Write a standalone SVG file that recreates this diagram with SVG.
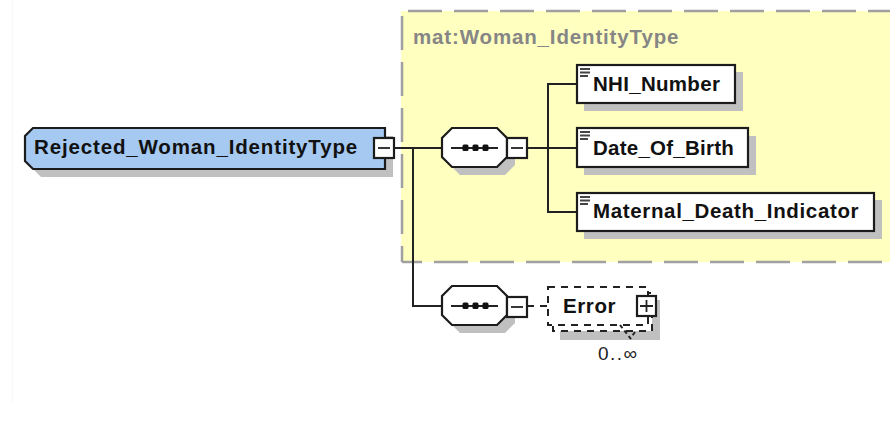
<svg xmlns="http://www.w3.org/2000/svg" width="890" height="441" viewBox="0 0 890 441">
<style>
text{font-family:"Liberation Sans",Arial,sans-serif;font-weight:bold;fill:#111;font-size:20.5px}
.sh{fill:#c0c0c0;stroke:none}
.bx{fill:#fff;stroke:#1c1c1c;stroke-width:2.200}
.ln{fill:none;stroke:#222;stroke-width:2}
.dsh{stroke:#222;stroke-width:2;stroke-dasharray:7 6}
.thin{fill:none;stroke:#222;stroke-width:1.800}
.edge{fill:none;stroke:#a0a0a0;stroke-width:2.500;stroke-dasharray:34 12}
</style>
<defs>
<path id="seq" d="M452 128H497L507 138V157L497 167H452L442 157V138Z"/>
<g id="dots"><line x1="451" x2="498" y1="148" y2="148" class="ln"/><rect x="462.500" y="144.500" width="6" height="6.500" rx="1.500" fill="#111"/><rect x="472.500" y="144.500" width="6" height="6.500" rx="1.500" fill="#111"/><rect x="482.500" y="144.500" width="6" height="6.500" rx="1.500" fill="#111"/></g>
<g id="lines"><rect x="0" y="0" width="10" height="2" fill="#444"/><rect x="0" y="3.500" width="10" height="2" fill="#444"/><rect x="0" y="7" width="8" height="2" fill="#444"/></g>
</defs>
<rect width="890" height="441" fill="#fff"/>
<line x1="12.500" y1="0" x2="12.500" y2="402" stroke="#f8f8f6" stroke-width="1.500"/>
<g id="group-type">
<rect x="401" y="11" width="489" height="251" fill="#ffffc0"/>
<path class="edge" d="M408 11H890"/>
<path class="edge" d="M402 16V262"/>
<path class="edge" d="M434 262H890"/>
<path class="edge" d="M402 262H422"/>
<text x="413" y="44" style="fill:#868686;letter-spacing:.85px">mat:Woman_IdentityType</text>
</g>
<g id="connectors">
<path class="ln" d="M394 148H442M527 148H577M548 148V84H577M548 148V212H577M413 148V306H442"/>
<path d="M527 306H548" class="dsh" fill="none"/>
</g>
<g id="root">
<path class="sh" d="M41 136H393V177H41L33 169V144Z"/>
<path d="M33 128H385V169H33L25 161V136Z" fill="#a5c9f0" stroke="#1c1c1c" stroke-width="2.200"/>
<text x="34" y="154" style="letter-spacing:.85px">Rejected_Woman_IdentityType</text>
<rect x="374" y="138" width="20" height="20" class="bx"/>
<line x1="378" x2="390" y1="148" y2="148" class="thin"/>
</g>
<g id="sequence-1">
<use href="#seq" x="8" y="8" class="sh"/>
<use href="#seq" class="bx"/>
<use href="#dots"/>
<rect x="507" y="138" width="20" height="20" class="bx"/>
<line x1="511" x2="523" y1="148" y2="148" class="thin"/>
</g>
<g id="sequence-2">
<use href="#seq" x="8" y="166" class="sh"/>
<use href="#seq" y="158" class="bx"/>
<use href="#dots" y="158"/>
<rect x="507" y="297" width="20" height="20" class="bx"/>
<line x1="511" x2="523" y1="307" y2="307" class="thin"/>
</g>
<g id="nhi-number">
<rect x="584" y="72" width="159" height="39" class="sh"/>
<rect x="577" y="65" width="158" height="38" class="bx"/>
<use href="#lines" x="580" y="68"/>
<text x="593" y="91" style="letter-spacing:.3px">NHI_Number</text>
</g>
<g id="date-of-birth">
<rect x="584" y="136" width="172" height="39" class="sh"/>
<rect x="577" y="128" width="171" height="39" class="bx"/>
<use href="#lines" x="580" y="131"/>
<text x="593" y="155" style="letter-spacing:.25px">Date_Of_Birth</text>
</g>
<g id="maternal-death">
<rect x="584" y="200" width="298" height="39" class="sh"/>
<rect x="577" y="193" width="297" height="38" class="bx"/>
<use href="#lines" x="580" y="196"/>
<text x="593" y="218" style="letter-spacing:.65px">Maternal_Death_Indicator</text>
</g>
<g id="error">
<rect x="560" y="300" width="100" height="40" class="sh"/>
<rect x="553" y="293" width="99" height="38" style="fill:#fff" class="dsh"/>
<rect x="548" y="287" width="100" height="38" style="fill:#fff" class="dsh"/>
<text x="563" y="313" style="letter-spacing:.6px">Error</text>
<rect x="637" y="296" width="19" height="20" class="bx"/>
<path class="thin" d="M640 306H653M646.500 300V312"/>
<path d="M620 325L631 339M635 332L630 339" class="ln" stroke-dasharray="4 3"/>
<text x="598" y="360" style="font-weight:normal;fill:#222;font-size:19px;letter-spacing:1.500px">0..∞</text>
</g>
</svg>
